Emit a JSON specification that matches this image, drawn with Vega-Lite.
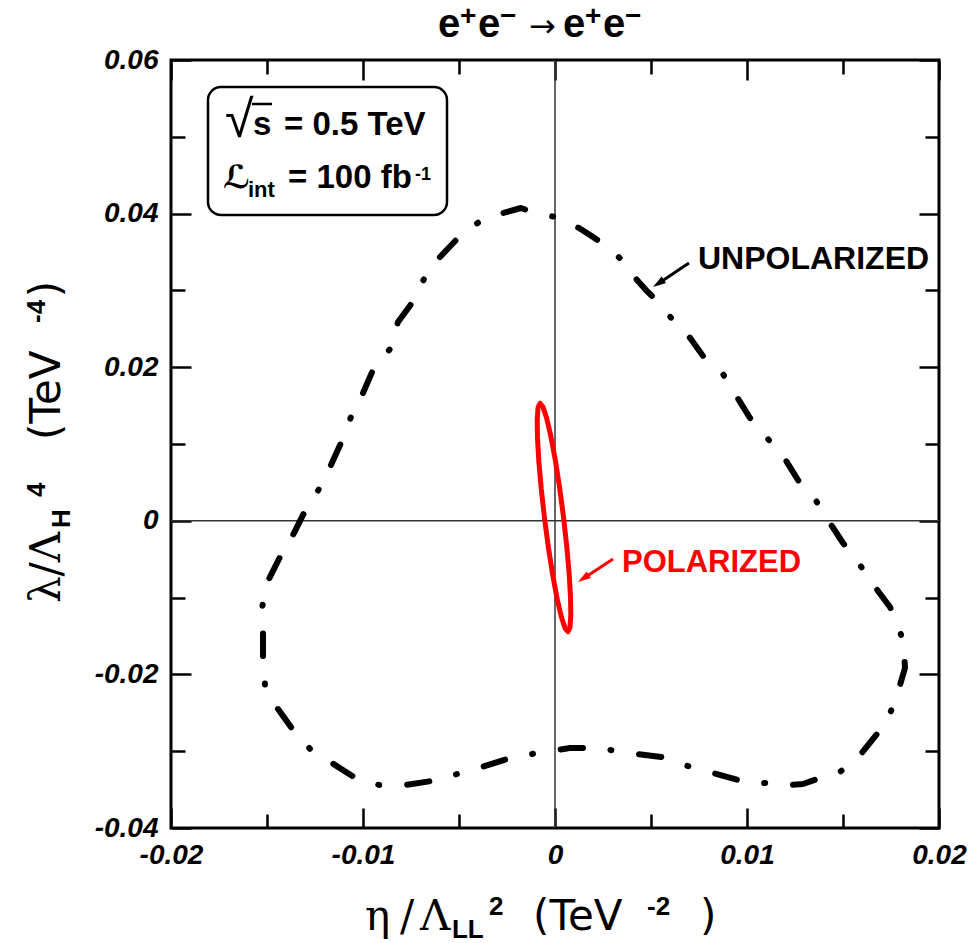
{
  "$schema": "https://vega.github.io/schema/vega-lite/v6.json",
  "width": 768,
  "height": 768,
  "autosize": {"type": "none"},
  "padding": {"left": 171, "top": 60, "right": 30, "bottom": 115},
  "background": "white",
  "data": {"values": [{}]},
  "config": {
    "view": {"stroke": "black", "strokeWidth": 3},
    "axis": {"grid": false, "domain": false, "tickColor": "black", "tickWidth": 2.5, "labelColor": "black", "labelFont": "Liberation Sans", "labelFontSize": 28, "labelFontWeight": "bold", "labelFontStyle": "italic", "labelOverlap": false, "labelFlush": false},
    "text": {"font": "Liberation Sans", "color": "black", "align": "left", "baseline": "alphabetic"}
  },
  "datasets": {
    "unpolarized": [
      {"i": 0, "x": -0.014375, "y": -0.00497},
      {"i": 1, "x": -0.013646, "y": -0.00185},
      {"i": 2, "x": -0.013073, "y": 0.00102},
      {"i": 3, "x": -0.012292, "y": 0.00414},
      {"i": 4, "x": -0.011667, "y": 0.00727},
      {"i": 5, "x": -0.011146, "y": 0.01013},
      {"i": 6, "x": -0.010625, "y": 0.01352},
      {"i": 7, "x": -0.010000, "y": 0.01664},
      {"i": 8, "x": -0.009479, "y": 0.01964},
      {"i": 9, "x": -0.008594, "y": 0.02237},
      {"i": 10, "x": -0.008177, "y": 0.02589},
      {"i": 11, "x": -0.007448, "y": 0.02836},
      {"i": 12, "x": -0.006823, "y": 0.03148},
      {"i": 13, "x": -0.005990, "y": 0.03435},
      {"i": 14, "x": -0.005052, "y": 0.03682},
      {"i": 15, "x": -0.003958, "y": 0.03891},
      {"i": 16, "x": -0.002708, "y": 0.04008},
      {"i": 17, "x": -0.001771, "y": 0.04073},
      {"i": 18, "x": -0.001354, "y": 0.04034},
      {"i": 19, "x": 0.0, "y": 0.03956},
      {"i": 20, "x": 0.001250, "y": 0.03813},
      {"i": 21, "x": 0.001823, "y": 0.03721},
      {"i": 22, "x": 0.002448, "y": 0.03617},
      {"i": 23, "x": 0.003490, "y": 0.03396},
      {"i": 24, "x": 0.004271, "y": 0.03135},
      {"i": 25, "x": 0.004740, "y": 0.03005},
      {"i": 26, "x": 0.005208, "y": 0.02888},
      {"i": 27, "x": 0.006146, "y": 0.02615},
      {"i": 28, "x": 0.006927, "y": 0.02419},
      {"i": 29, "x": 0.007708, "y": 0.02146},
      {"i": 30, "x": 0.008750, "y": 0.01911},
      {"i": 31, "x": 0.009479, "y": 0.01612},
      {"i": 32, "x": 0.010156, "y": 0.01339},
      {"i": 33, "x": 0.011094, "y": 0.01065},
      {"i": 34, "x": 0.011979, "y": 0.00805},
      {"i": 35, "x": 0.012656, "y": 0.00531},
      {"i": 36, "x": 0.013542, "y": 0.00284},
      {"i": 37, "x": 0.014219, "y": 0.00010},
      {"i": 38, "x": 0.015000, "y": -0.00289},
      {"i": 39, "x": 0.015781, "y": -0.00536},
      {"i": 40, "x": 0.016510, "y": -0.00810},
      {"i": 41, "x": 0.017448, "y": -0.01122},
      {"i": 42, "x": 0.017969, "y": -0.01422},
      {"i": 43, "x": 0.018177, "y": -0.01682},
      {"i": 44, "x": 0.018229, "y": -0.01917},
      {"i": 45, "x": 0.017969, "y": -0.02138},
      {"i": 46, "x": 0.017500, "y": -0.02477},
      {"i": 47, "x": 0.016771, "y": -0.02776},
      {"i": 48, "x": 0.015938, "y": -0.03036},
      {"i": 49, "x": 0.014844, "y": -0.03271},
      {"i": 50, "x": 0.013646, "y": -0.03362},
      {"i": 51, "x": 0.012917, "y": -0.03427},
      {"i": 52, "x": 0.012240, "y": -0.03440},
      {"i": 53, "x": 0.010938, "y": -0.03414},
      {"i": 54, "x": 0.009531, "y": -0.03375},
      {"i": 55, "x": 0.008229, "y": -0.03284},
      {"i": 56, "x": 0.006927, "y": -0.03193},
      {"i": 57, "x": 0.005573, "y": -0.03076},
      {"i": 58, "x": 0.004271, "y": -0.03036},
      {"i": 59, "x": 0.002865, "y": -0.02984},
      {"i": 60, "x": 0.001458, "y": -0.02958},
      {"i": 61, "x": 0.000781, "y": -0.02958},
      {"i": 62, "x": 0.000104, "y": -0.02984},
      {"i": 63, "x": -0.001198, "y": -0.03036},
      {"i": 64, "x": -0.002500, "y": -0.03102},
      {"i": 65, "x": -0.003802, "y": -0.03206},
      {"i": 66, "x": -0.005104, "y": -0.03297},
      {"i": 67, "x": -0.006406, "y": -0.03388},
      {"i": 68, "x": -0.007813, "y": -0.03440},
      {"i": 69, "x": -0.009167, "y": -0.03440},
      {"i": 70, "x": -0.010469, "y": -0.03336},
      {"i": 71, "x": -0.011615, "y": -0.03154},
      {"i": 72, "x": -0.012708, "y": -0.02984},
      {"i": 73, "x": -0.013646, "y": -0.02724},
      {"i": 74, "x": -0.014427, "y": -0.02451},
      {"i": 75, "x": -0.015104, "y": -0.02138},
      {"i": 76, "x": -0.015208, "y": -0.01786},
      {"i": 77, "x": -0.015208, "y": -0.01448},
      {"i": 78, "x": -0.015260, "y": -0.01135},
      {"i": 79, "x": -0.015000, "y": -0.00810},
      {"i": 80, "x": -0.014375, "y": -0.00497}
    ],
    "polarized": [
      {"i": 0, "x": -0.000779, "y": 0.01529},
      {"i": 1, "x": -0.000627, "y": 0.01483},
      {"i": 2, "x": -0.000436, "y": 0.01338},
      {"i": 3, "x": -0.000219, "y": 0.01105},
      {"i": 4, "x": 0.000010, "y": 0.00799},
      {"i": 5, "x": 0.000234, "y": 0.00442},
      {"i": 6, "x": 0.000439, "y": 0.00058},
      {"i": 7, "x": 0.000610, "y": -0.00327},
      {"i": 8, "x": 0.000737, "y": -0.00687},
      {"i": 9, "x": 0.000809, "y": -0.00997},
      {"i": 10, "x": 0.000823, "y": -0.01237},
      {"i": 11, "x": 0.000777, "y": -0.01389},
      {"i": 12, "x": 0.000675, "y": -0.01443},
      {"i": 13, "x": 0.000523, "y": -0.01397},
      {"i": 14, "x": 0.000332, "y": -0.01252},
      {"i": 15, "x": 0.000115, "y": -0.01019},
      {"i": 16, "x": -0.000114, "y": -0.00713},
      {"i": 17, "x": -0.000339, "y": -0.00356},
      {"i": 18, "x": -0.000543, "y": 0.00028},
      {"i": 19, "x": -0.000715, "y": 0.00413},
      {"i": 20, "x": -0.000841, "y": 0.00773},
      {"i": 21, "x": -0.000914, "y": 0.01083},
      {"i": 22, "x": -0.000927, "y": 0.01323},
      {"i": 23, "x": -0.000881, "y": 0.01475},
      {"i": 24, "x": -0.000779, "y": 0.01529}
    ],
    "box": [
      {"x1": -0.018073, "x2": -0.005625, "y1": 0.056484, "y2": 0.039818}
    ]
  },
  "resolve": {"axis": {"x": "independent", "y": "independent"}},
  "layer": [
    {
      "mark": {"type": "rule", "color": "#333333", "strokeWidth": 1.5},
      "encoding": {"x": {"datum": 0, "type": "quantitative", "scale": {"domain": [-0.02, 0.02], "nice": false, "zero": false}, "axis": null}}
    },
    {
      "mark": {"type": "rule", "color": "#333333", "strokeWidth": 1.5},
      "encoding": {"y": {"datum": 0, "type": "quantitative", "scale": {"domain": [-0.04, 0.06], "nice": false, "zero": false}, "axis": null}}
    },
    {
      "data": {"name": "unpolarized"},
      "mark": {"type": "line", "color": "black", "strokeWidth": 6, "strokeCap": "round", "strokeJoin": "round", "strokeDash": [1, 27.5, 22.5, 27.9]},
      "encoding": {
        "x": {"field": "x", "type": "quantitative", "scale": {"domain": [-0.02, 0.02], "nice": false, "zero": false},
          "axis": {"orient": "bottom", "title": null, "values": [-0.02, -0.015, -0.01, -0.005, 0, 0.005, 0.01, 0.015, 0.02],
            "tickSize": {"condition": {"test": "abs(round(datum.value*200)) % 2 == 0", "value": -20}, "value": -14},
            "labelBaseline": "top", "labelPadding": 33,
            "labelExpr": "abs(round(datum.value*200)) % 2 == 0 ? (datum.value < 0 ? '-' + format(-datum.value, '.2~f') : format(datum.value, '.2~f')) : ''"}},
        "y": {"field": "y", "type": "quantitative", "scale": {"domain": [-0.04, 0.06], "nice": false, "zero": false},
          "axis": {"orient": "left", "title": null, "values": [-0.04, -0.03, -0.02, -0.01, 0, 0.01, 0.02, 0.03, 0.04, 0.05, 0.06],
            "tickSize": {"condition": {"test": "abs(round(datum.value*100)) % 2 == 0", "value": -20}, "value": -14},
            "labelPadding": 33, "labelBaseline": "middle",
            "labelExpr": "abs(round(datum.value*100)) % 2 == 0 ? (datum.value < 0 ? '-' + format(-datum.value, '.2~f') : format(datum.value, '.2~f')) : ''"}},
        "order": {"field": "i", "type": "quantitative"}
      }
    },
    {
      "data": {"name": "polarized"},
      "mark": {"type": "line", "color": "#ff0000", "strokeWidth": 5, "strokeJoin": "round", "strokeCap": "round"},
      "encoding": {
        "x": {"field": "x", "type": "quantitative", "scale": {"domain": [-0.02, 0.02], "nice": false, "zero": false},
          "axis": {"orient": "top", "title": null, "labels": false, "values": [-0.02, -0.015, -0.01, -0.005, 0, 0.005, 0.01, 0.015, 0.02],
            "tickSize": {"condition": {"test": "abs(round(datum.value*200)) % 2 == 0", "value": -20}, "value": -14}}},
        "y": {"field": "y", "type": "quantitative", "scale": {"domain": [-0.04, 0.06], "nice": false, "zero": false},
          "axis": {"orient": "right", "title": null, "labels": false, "values": [-0.04, -0.03, -0.02, -0.01, 0, 0.01, 0.02, 0.03, 0.04, 0.05, 0.06],
            "tickSize": {"condition": {"test": "abs(round(datum.value*100)) % 2 == 0", "value": -20}, "value": -14}}},
        "order": {"field": "i", "type": "quantitative"}
      }
    },
    {
      "data": {"name": "box"},
      "mark": {"type": "rect", "fill": "white", "stroke": "black", "strokeWidth": 2.5, "cornerRadius": 13},
      "encoding": {
        "x": {"field": "x1", "type": "quantitative", "scale": {"domain": [-0.02, 0.02], "nice": false, "zero": false}, "axis": null},
        "x2": {"field": "x2"},
        "y": {"field": "y1", "type": "quantitative", "scale": {"domain": [-0.04, 0.06], "nice": false, "zero": false}, "axis": null},
        "y2": {"field": "y2"}
      }
    },
    {"mark": {"type": "text", "text": "e", "fontSize": 40, "fontWeight": "bold"},
     "encoding": {"x": {"datum": -0.006094, "type": "quantitative", "axis": null}, "y": {"datum": 0.062995, "type": "quantitative", "axis": null}}},
    {"mark": {"type": "text", "text": "+", "fontSize": 28, "fontWeight": "bold"},
     "encoding": {"x": {"datum": -0.004948, "type": "quantitative", "axis": null}, "y": {"datum": 0.064557, "type": "quantitative", "axis": null}}},
    {"mark": {"type": "text", "text": "e", "fontSize": 40, "fontWeight": "bold"},
     "encoding": {"x": {"datum": -0.00401, "type": "quantitative", "axis": null}, "y": {"datum": 0.062995, "type": "quantitative", "axis": null}}},
    {"mark": {"type": "text", "text": "−", "fontSize": 28, "fontWeight": "bold"},
     "encoding": {"x": {"datum": -0.002865, "type": "quantitative", "axis": null}, "y": {"datum": 0.064557, "type": "quantitative", "axis": null}}},
    {"mark": {"type": "text", "text": "→", "font": "DejaVu Sans", "fontSize": 32},
     "encoding": {"x": {"datum": -0.001354, "type": "quantitative", "axis": null}, "y": {"datum": 0.062995, "type": "quantitative", "axis": null}}},
    {"mark": {"type": "text", "text": "e", "fontSize": 40, "fontWeight": "bold"},
     "encoding": {"x": {"datum": 0.000417, "type": "quantitative", "axis": null}, "y": {"datum": 0.062995, "type": "quantitative", "axis": null}}},
    {"mark": {"type": "text", "text": "+", "fontSize": 28, "fontWeight": "bold"},
     "encoding": {"x": {"datum": 0.001563, "type": "quantitative", "axis": null}, "y": {"datum": 0.064557, "type": "quantitative", "axis": null}}},
    {"mark": {"type": "text", "text": "e", "fontSize": 40, "fontWeight": "bold"},
     "encoding": {"x": {"datum": 0.002500, "type": "quantitative", "axis": null}, "y": {"datum": 0.062995, "type": "quantitative", "axis": null}}},
    {"mark": {"type": "text", "text": "−", "fontSize": 28, "fontWeight": "bold"},
     "encoding": {"x": {"datum": 0.003646, "type": "quantitative", "axis": null}, "y": {"datum": 0.064557, "type": "quantitative", "axis": null}}},
    {"mark": {"type": "text", "text": "√", "fontSize": 52},
     "encoding": {"x": {"datum": -0.017188, "type": "quantitative", "axis": null}, "y": {"datum": 0.049974, "type": "quantitative", "axis": null}}},
    {"mark": {"type": "rule", "color": "black", "strokeWidth": 2.5},
     "encoding": {"x": {"datum": -0.015781, "type": "quantitative", "axis": null}, "x2": {"datum": -0.01474}, "y": {"datum": 0.054271, "type": "quantitative", "axis": null}}},
    {"mark": {"type": "text", "text": "s", "fontSize": 33, "fontWeight": "bold"},
     "encoding": {"x": {"datum": -0.015729, "type": "quantitative", "axis": null}, "y": {"datum": 0.050234, "type": "quantitative", "axis": null}}},
    {"mark": {"type": "text", "text": "= 0.5 TeV", "fontSize": 33, "fontWeight": "bold"},
     "encoding": {"x": {"datum": -0.014115, "type": "quantitative", "axis": null}, "y": {"datum": 0.050234, "type": "quantitative", "axis": null}}},
    {"mark": {"type": "text", "text": "ℒ", "font": "DejaVu Sans", "fontSize": 32, "fontWeight": "bold"},
     "encoding": {"x": {"datum": -0.017292, "type": "quantitative", "axis": null}, "y": {"datum": 0.043333, "type": "quantitative", "axis": null}}},
    {"mark": {"type": "text", "text": "int", "fontSize": 22, "fontWeight": "bold"},
     "encoding": {"x": {"datum": -0.01599, "type": "quantitative", "axis": null}, "y": {"datum": 0.042161, "type": "quantitative", "axis": null}}},
    {"mark": {"type": "text", "text": "= 100 fb", "fontSize": 33, "fontWeight": "bold"},
     "encoding": {"x": {"datum": -0.013906, "type": "quantitative", "axis": null}, "y": {"datum": 0.043333, "type": "quantitative", "axis": null}}},
    {"mark": {"type": "text", "text": "-1", "fontSize": 18, "fontWeight": "bold"},
     "encoding": {"x": {"datum": -0.007292, "type": "quantitative", "axis": null}, "y": {"datum": 0.044375, "type": "quantitative", "axis": null}}},
    {"mark": {"type": "text", "text": "UNPOLARIZED", "fontSize": 32, "fontWeight": "bold"},
     "encoding": {"x": {"datum": 0.007448, "type": "quantitative", "axis": null}, "y": {"datum": 0.03275, "type": "quantitative", "axis": null}}},
    {"mark": {"type": "text", "text": "POLARIZED", "fontSize": 31, "fontWeight": "bold", "color": "#ff0000"},
     "encoding": {"x": {"datum": 0.00349, "type": "quantitative", "axis": null}, "y": {"datum": -0.00663, "type": "quantitative", "axis": null}}},
    {"mark": {"type": "rule", "color": "black", "strokeWidth": 3},
     "encoding": {"x": {"datum": 0.006979, "type": "quantitative", "axis": null}, "y": {"datum": 0.03357, "type": "quantitative", "axis": null}, "x2": {"datum": 0.005385}, "y2": {"datum": 0.03091}}},
    {"mark": {"type": "point", "shape": "M0,-1L0.6,1L-0.6,1Z", "size": 169, "angle": 236, "filled": true, "color": "black", "opacity": 1},
     "encoding": {"x": {"datum": 0.005385, "type": "quantitative", "axis": null}, "y": {"datum": 0.03091, "type": "quantitative", "axis": null}}},
    {"mark": {"type": "rule", "color": "#ff0000", "strokeWidth": 3},
     "encoding": {"x": {"datum": 0.003021, "type": "quantitative", "axis": null}, "y": {"datum": -0.004974, "type": "quantitative", "axis": null}, "x2": {"datum": 0.001479}, "y2": {"datum": -0.0075}}},
    {"mark": {"type": "point", "shape": "M0,-1L0.6,1L-0.6,1Z", "size": 169, "angle": 236.7, "filled": true, "color": "#ff0000", "opacity": 1},
     "encoding": {"x": {"datum": 0.001479, "type": "quantitative", "axis": null}, "y": {"datum": -0.0075, "type": "quantitative", "axis": null}}},
    {"mark": {"type": "text", "text": "η", "font": "DejaVu Serif", "fontSize": 42},
     "encoding": {"x": {"datum": -0.009896, "type": "quantitative", "axis": null}, "y": {"datum": -0.053281, "type": "quantitative", "axis": null}}},
    {"mark": {"type": "text", "text": "/", "font": "DejaVu Serif", "fontSize": 42},
     "encoding": {"x": {"datum": -0.008073, "type": "quantitative", "axis": null}, "y": {"datum": -0.053281, "type": "quantitative", "axis": null}}},
    {"mark": {"type": "text", "text": "Λ", "font": "DejaVu Serif", "fontSize": 42},
     "encoding": {"x": {"datum": -0.007031, "type": "quantitative", "axis": null}, "y": {"datum": -0.053281, "type": "quantitative", "axis": null}}},
    {"mark": {"type": "text", "text": "LL", "fontSize": 26, "fontWeight": "bold"},
     "encoding": {"x": {"datum": -0.005365, "type": "quantitative", "axis": null}, "y": {"datum": -0.054323, "type": "quantitative", "axis": null}}},
    {"mark": {"type": "text", "text": "2", "fontSize": 26, "fontWeight": "bold"},
     "encoding": {"x": {"datum": -0.003438, "type": "quantitative", "axis": null}, "y": {"datum": -0.051328, "type": "quantitative", "axis": null}}},
    {"mark": {"type": "text", "text": "(TeV", "font": "DejaVu Sans", "fontSize": 42},
     "encoding": {"x": {"datum": -0.001146, "type": "quantitative", "axis": null}, "y": {"datum": -0.053281, "type": "quantitative", "axis": null}}},
    {"mark": {"type": "text", "text": "-2", "fontSize": 26, "fontWeight": "bold"},
     "encoding": {"x": {"datum": 0.004792, "type": "quantitative", "axis": null}, "y": {"datum": -0.051328, "type": "quantitative", "axis": null}}},
    {"mark": {"type": "text", "text": ")", "font": "DejaVu Sans", "fontSize": 42},
     "encoding": {"x": {"datum": 0.007552, "type": "quantitative", "axis": null}, "y": {"datum": -0.053281, "type": "quantitative", "axis": null}}},
    {"mark": {"type": "text", "text": "λ/Λ", "font": "DejaVu Serif", "fontSize": 42, "angle": 270},
     "encoding": {"x": {"datum": -0.025781, "type": "quantitative", "axis": null}, "y": {"datum": -0.010703, "type": "quantitative", "axis": null}}},
    {"mark": {"type": "text", "text": "H", "fontSize": 26, "fontWeight": "bold", "angle": 270},
     "encoding": {"x": {"datum": -0.02526, "type": "quantitative", "axis": null}, "y": {"datum": -0.000938, "type": "quantitative", "axis": null}}},
    {"mark": {"type": "text", "text": "4", "fontSize": 26, "fontWeight": "bold", "angle": 270},
     "encoding": {"x": {"datum": -0.026563, "type": "quantitative", "axis": null}, "y": {"datum": 0.003099, "type": "quantitative", "axis": null}}},
    {"mark": {"type": "text", "text": "(TeV", "font": "DejaVu Sans", "fontSize": 42, "angle": 270},
     "encoding": {"x": {"datum": -0.025781, "type": "quantitative", "axis": null}, "y": {"datum": 0.010521, "type": "quantitative", "axis": null}}},
    {"mark": {"type": "text", "text": "-4", "fontSize": 26, "fontWeight": "bold", "angle": 270},
     "encoding": {"x": {"datum": -0.026563, "type": "quantitative", "axis": null}, "y": {"datum": 0.025755, "type": "quantitative", "axis": null}}},
    {"mark": {"type": "text", "text": ")", "font": "DejaVu Sans", "fontSize": 42, "angle": 270},
     "encoding": {"x": {"datum": -0.025781, "type": "quantitative", "axis": null}, "y": {"datum": 0.029115, "type": "quantitative", "axis": null}}}
  ]
}
